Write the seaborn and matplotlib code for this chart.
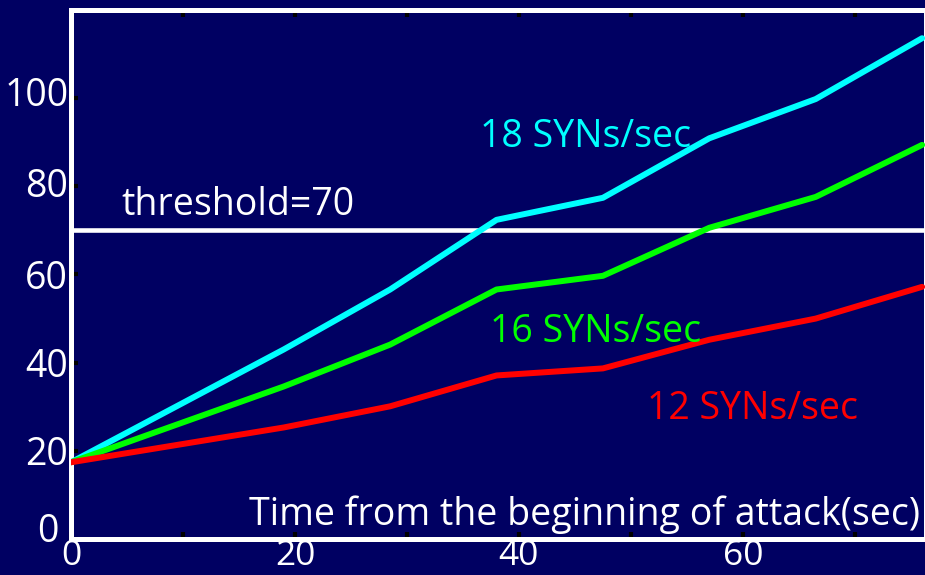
import numpy as np
import pandas as pd
import seaborn as sns
import matplotlib.pyplot as plt
from matplotlib.transforms import ScaledTranslation

# Measured SYN counts over time for three attack rates
times = [0, 19, 28.5, 38, 47.5, 57, 66.5, 76]
syn18 = [17.4, 43.0, 56.6, 72.4, 77.4, 90.9, 99.8, 113.6]
syn16 = [17.4, 34.6, 44.1, 56.6, 59.7, 70.6, 77.6, 89.4]
syn12 = [17.4, 25.3, 30.1, 37.1, 38.7, 45.2, 50.0, 57.2]
rates = ["18 SYNs/sec", "16 SYNs/sec", "12 SYNs/sec"]
colors = ["#00ffff", "#00ff00", "#ff0000"]
threshold = 70
x_ticks = [0, 20, 40, 60]
x_minor = [10, 30, 50, 70]
y_ticks = [0, 20, 40, 60, 80, 100]
x_title = "Time from the beginning of attack(sec)"

bg = "#000062"
sns.set_theme(style="white")
plt.rcParams["font.family"] = ["Open Sans", "DejaVu Sans"]

df = pd.DataFrame({
    "time": times * 3,
    "count": syn18 + syn16 + syn12,
    "rate": np.repeat(rates, len(times)),
})

fig = plt.figure(figsize=(9.25, 5.75), dpi=100, facecolor=bg)
ax = fig.add_axes([71 / 925, 36 / 575, 855 / 925, 529 / 575])
ax.set_facecolor(bg)

ax.axhline(threshold, color="white", lw=3.3, zorder=2)
sns.lineplot(data=df, x="time", y="count", hue="rate", hue_order=rates,
             palette=dict(zip(rates, colors)), linewidth=4.3,
             legend=False, ax=ax, zorder=3)

ax.set_xlim(0, 76.35)
ax.set_ylim(0, 120)
ax.set_xticks(x_ticks)
ax.set_xticks(x_minor, minor=True)
ax.set_yticks(y_ticks)
ax.set_xlabel("")
ax.set_ylabel("")

for side, spine in ax.spines.items():
    spine.set_visible(True)
    spine.set_color("white")
    spine.set_linewidth(3.6)

ax.tick_params(which="both", direction="in", length=5, width=3, color="black",
               top=True, right=False, bottom=True, left=True,
               labelcolor="white")
ax.tick_params(axis="x", labelsize=25.5, pad=0)
ax.tick_params(axis="y", labelsize=27, pad=2)

# nudge a few y labels the way they sit on the slide
nudges = {0: (-10, 12), 4: (0, 4), 5: (0, 7)}
yticks = ax.yaxis.get_major_ticks()
for i, (dx, dy) in nudges.items():
    lab = yticks[i].label1
    lab.set_transform(lab.get_transform() +
                      ScaledTranslation(dx / 100, dy / 100, fig.dpi_scale_trans))

fs = 27
ax.text(4.5, 73.5, f"threshold={threshold}", color="white", fontsize=fs)
ax.text(36.5, 88.9, rates[0], color=colors[0], fontsize=fs)
ax.text(37.4, 44.6, rates[1], color=colors[1], fontsize=fs)
ax.text(51.4, 27.3, rates[2], color=colors[2], fontsize=fs)
ax.text(75.8, 3.2, x_title, color="white", fontsize=fs, ha="right")

fig.savefig("out.png", dpi=100, facecolor=bg)
